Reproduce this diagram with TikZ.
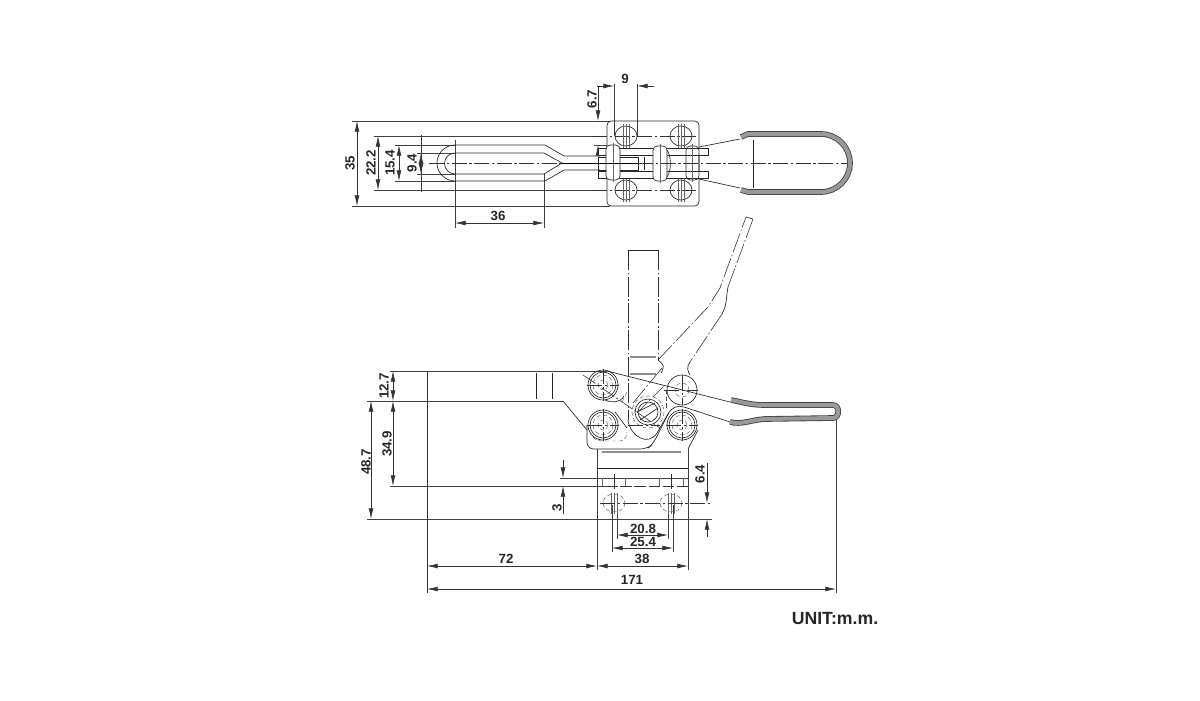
\documentclass[tikz,border=0pt]{standalone}
\usepackage{fontspec}
\setmainfont{Liberation Sans}
\usetikzlibrary{arrows.meta}
\tikzset{
  part/.style={line width=0.4pt,black!85},
  extline/.style={line width=0.35pt,black!75},
  dimline/.style={line width=0.35pt,black!80,{Latex[length=6.4pt,width=2.9pt]}-{Latex[length=6.4pt,width=2.9pt]}},
  endtip/.style={line width=0.35pt,black!80,-{Latex[length=6.4pt,width=2.9pt]}},
  centreline/.style={line width=0.35pt,black!80,dash pattern=on 9pt off 1.5pt on 1.5pt off 1.5pt},
  phantomline/.style={line width=0.35pt,black!80,dash pattern=on 12pt off 1.5pt on 1pt off 1.5pt},
  hidden/.style={line width=0.25pt,black!70,dash pattern=on 2.5pt off 1.5pt},
  holeline/.style={line width=0.25pt,black!60},
  grip/.style={line width=3.4pt,black!75},
  gripfill/.style={line width=2.4pt,black!40},
  dimtext/.style={font=\bfseries\fontsize{8}{9}\selectfont,inner sep=0pt,black!85},
  dimvert/.style={dimtext,rotate=90}
}
\begin{document}
\begin{tikzpicture}[x=0.6pt,y=-0.6pt]
\useasboundingbox (0,0) rectangle (1200,700);

% top view, extension lines
\draw[extline] (352,121) -- (610,121);
\draw[extline] (352,206) -- (610,206);
\draw[extline] (374,136) -- (602,136);
\draw[extline] (374,190) -- (602,190);
\draw[extline] (395,145) -- (455,145);
\draw[extline] (395,181) -- (455,181);
\draw[extline] (417,153) -- (455,153);
\draw[extline] (417,174) -- (455,174);
\draw[extline] (421,135) -- (421,192);
\draw[extline] (455,140) -- (455,228);
\draw[extline] (544,174) -- (544,228);
\draw[extline] (594,145) -- (607,145);
\draw[extline] (614,84) -- (614,136);
\draw[extline] (637,84) -- (637,136);

% top view, dimensions
\draw[dimline] (357,121) -- (357,206);
\draw[dimline] (378,136) -- (378,190);
\draw[dimline] (399,145) -- (399,181);
\draw[dimline] (421,153) -- (421,174);
\draw[dimline] (455,223) -- (544,223);
\draw[endtip] (597,86) -- (614,86);
\draw[endtip] (654,86) -- (637,86);
\draw[endtip] (598,86) -- (598,121);
\draw[endtip] (598,155) -- (598,145);
\node[dimvert] (lab35) at (350,163) {35};
\node[dimvert] (lab222) at (371,163) {22.2};
\node[dimvert] (lab154) at (390,163) {15.4};
\node[dimvert] (lab94) at (412,163) {9.4};
\node[dimtext] (lab36) at (498,216) {36};
\node[dimtext] (lab9) at (625,79) {9};
\node[dimvert] (lab67) at (592,99) {6.7};

% top view, jaw with slot
\draw[part] (455,145) -- (545,145) -- (564,156) -- (600,156);
\draw[part] (455,181) -- (545,181) -- (564,170) -- (600,170);
\draw[part] (455,145) arc[start angle=270,end angle=90,radius=18];
\draw[part] (455,153) -- (544,153) -- (562,163) -- (544,174) -- (455,174);
\draw[part] (455,153) arc[start angle=270,end angle=90,radius=10.5];
\draw[centreline] (429,163) -- (562,163);

% top view, base plate and holes
\draw[part,rounded corners=2.5pt] (607,121) rectangle (699,206);
\draw[centreline] (592,136) -- (696,136);
\draw[centreline] (592,190) -- (696,190);
\foreach \hx in {626,681} \foreach \hy in {136,190} {
  \draw[part] (\hx,\hy) ellipse[x radius=11,y radius=10];
  \foreach \dx in {-3,0,3}
    \draw[holeline] (\hx+\dx,\hy-12) -- (\hx+\dx,\hy+12);
}

% top view, clevis and rivets
\draw[part,fill=white] (598,148) rectangle (708,155);
\draw[part,fill=white] (598,171) rectangle (708,178);
\draw[part] (598,157) rectangle (638,170);
\draw[part] (644,157) -- (644,170);
\draw[part,fill=white,rounded corners=2.5pt] (606,145) rectangle (620,180);
\draw[part,fill=white,rounded corners=2.5pt] (653,146) rectangle (667,181);
\draw[part] (667,150) .. controls (671,155) and (672,170) .. (667,177);
\draw[part,rounded corners=2.5pt] (686,146) rectangle (699,180);
\draw[holeline] (613,143) -- (613,182);
\draw[holeline] (660,144) -- (660,183);
\draw[holeline] (692,144) -- (692,182);
\draw[line width=0.6pt] (562,163) -- (638,163);
\draw[centreline] (638,163) -- (853,163);

% top view, handle
\draw[part] (699,147) -- (740,139);
\draw[part] (699,179) -- (740,188);
\draw[part] (753,140) -- (753,188);
\draw[grip] (741,137) -- (748,134) -- (821,134) arc[start angle=270,end angle=450,radius=29] -- (748,192) -- (741,190);
\draw[gripfill] (741,137) -- (748,134) -- (821,134) arc[start angle=270,end angle=450,radius=29] -- (748,192) -- (741,190);

% side view, extension lines
\draw[extline] (390,371) -- (607,371);
\draw[extline] (367,401) -- (563,401);
\draw[extline] (390,486) -- (606,486);
\draw[extline] (367,519) -- (712,519);
\draw[extline] (560,478) -- (688,478);
\draw[line width=0.5pt,black!80] (427,371) -- (427,593);
\draw[extline] (597,449) -- (597,570);
\draw[extline] (688,449) -- (688,570);
\draw[extline] (612,505) -- (612,552);
\draw[extline] (673,505) -- (673,552);
\draw[extline] (617,505) -- (617,539);
\draw[extline] (668,505) -- (668,539);
\draw[extline] (836,420) -- (836,593);

% side view, dimensions
\draw[endtip] (393,386) -- (393,371);
\draw[dimline] (393,401) -- (393,486);
\draw[endtip] (393,386) -- (393,401);
\draw[dimline] (371,401) -- (371,519);
\draw[endtip] (563,460) -- (563,478);
\draw[endtip] (563,514) -- (563,486);
\draw[dimline] (427,566) -- (597,566);
\draw[dimline] (597,566) -- (688,566);
\draw[dimline] (427,589) -- (836,589);
\draw[dimline] (617,535) -- (668,535);
\draw[dimline] (612,548) -- (673,548);
\draw[endtip] (707,463) -- (707,503);
\draw[endtip] (707,537) -- (707,519);
\node[dimvert] (lab127) at (384,386) {12.7};
\node[dimvert] (lab349) at (387,444) {34.9};
\node[dimvert] (lab487) at (366,462) {48.7};
\node[dimvert] (lab3) at (557,508) {3};
\node[dimvert] (lab64) at (700,474) {6.4};
\node[dimtext] (lab208) at (643,529) {20.8};
\node[dimtext] (lab254) at (643,542) {25.4};
\node[dimtext] (lab38) at (642,559) {38};
\node[dimtext] (lab72) at (506,559) {72};
\node[dimtext] (lab171) at (632,580) {171};

% side view, clamp arm
\draw[part] (536,373) -- (536,399);
\draw[part] (552,373) -- (552,399);
\draw[part] (563,401) -- (587,430);
\draw[part] (607,371) -- (730,402);
\draw[part] (605,400) .. controls (612,403) and (620,403) .. (624,396);
\draw[part] (615,412) -- (627,428);

% side view, body and base
\draw[part,rounded corners=4pt] (587,425) -- (587,449) -- (647,449) -- (653,444) -- (668,414);
\draw[part] (668,414) .. controls (672,407) and (678,405) .. (684,407) -- (730,422);
\draw[part] (698,430) -- (688,449);
\draw[hidden] (593,437) .. controls (596,441) and (600,441) .. (604,441) -- (620,441) .. controls (625,441) and (627,436) .. (627,432);
\draw[line width=0.9pt,black!45] (602,452) -- (681,452);
\draw[part] (597,468) -- (688,468);
\foreach \tx in {602,625,659,683}
  \draw[holeline] (\tx,478) -- (\tx,486);
\draw[line width=0.4pt,black!80,dash pattern=on 7pt off 1.5pt] (606,486) -- (688,486);
\foreach \sx in {614,671} {
  \draw[hidden] (\sx,503) ellipse[x radius=11,y radius=9];
  \draw[centreline] (\sx,474) -- (\sx,490);
  \foreach \dx in {-3,0,3}
    \draw[holeline] (\sx+\dx,493) -- (\sx+\dx,514);
}
\draw[centreline] (600,503) -- (712,503);

% side view, released position
\draw[phantomline] (628,250) -- (628,420);
\draw[phantomline] (658,250) -- (658,360);
\draw[part] (628,250) -- (658,250);
\draw[line width=0.7pt,black!45] (630,357) -- (656,357);
\draw[line width=0.7pt,black!45] (630,374) -- (656,374);
\draw[phantomline] (662,368) -- (633,403);
\draw[phantomline] (658,360) -- (708,307) -- (720,288) -- (746,217);
\draw[part] (746,217) -- (753,219);
\draw[phantomline] (753,219) -- (728,287);
\draw[part] (728,287) .. controls (726,298) and (727,305) .. (722,314);
\draw[phantomline] (722,314) -- (690,362);
\draw[part] (658,360) .. controls (665,365) and (664,368) .. (661,373);
\draw[part] (690,362) .. controls (686,367) and (688,372) .. (690,375);
\draw[hidden] (666,390) -- (666,410);
\draw[hidden] (622,402) -- (628,390);
\draw[centreline] (583,375) -- (660,428);
\draw[centreline] (637,413) -- (664,386);

% side view, pivots
\foreach \px/\py/\pr in {603/385/15,603/425/15,682/425/15} {
  \draw[part] (\px,\py) circle[radius=\pr];
  \draw[part] (\px,\py) circle[radius=\pr-2];
  \draw[hidden] (\px,\py) circle[radius=\pr-5];
  \draw[hidden] (\px,\py) circle[radius=\pr-10];
  \draw[centreline] (\px-16,\py) -- (\px+16,\py);
  \draw[centreline] (\px,\py-16) -- (\px,\py+16);
}
\draw[part] (682,390) circle[radius=15];
\draw[hidden] (682,390) circle[radius=7];
\draw[centreline] (664,390) -- (698,390);
\draw[centreline] (682,375) -- (682,405);
\draw[part] (648,412) circle[radius=13];
\draw[part] (648,412) circle[radius=10];
\draw[hidden] (648,412) circle[radius=16];
\draw[part] (637,412) -- (655,403);
\draw[part] (640,420) -- (658,408);
\draw[part] (628,420) .. controls (630,436) and (648,447) .. (657,433) -- (668,414);
\draw[centreline] (628,425) -- (660,425);

% side view, handle
\draw[grip] (730,422) .. controls (742,425) and (750,420) .. (765,419) -- (833,418) .. controls (840,418) and (840,405) .. (833,405) -- (765,405) .. controls (750,405) and (742,402) .. (731,400);
\draw[gripfill] (730,422) .. controls (742,425) and (750,420) .. (765,419) -- (833,418) .. controls (840,418) and (840,405) .. (833,405) -- (765,405) .. controls (750,405) and (742,402) .. (731,400);

\node[font=\bfseries\fontsize{10.6}{12}\selectfont,inner sep=0pt,black!85] (unit) at (835,618) {UNIT:m.m.};

\end{tikzpicture}
\end{document}
